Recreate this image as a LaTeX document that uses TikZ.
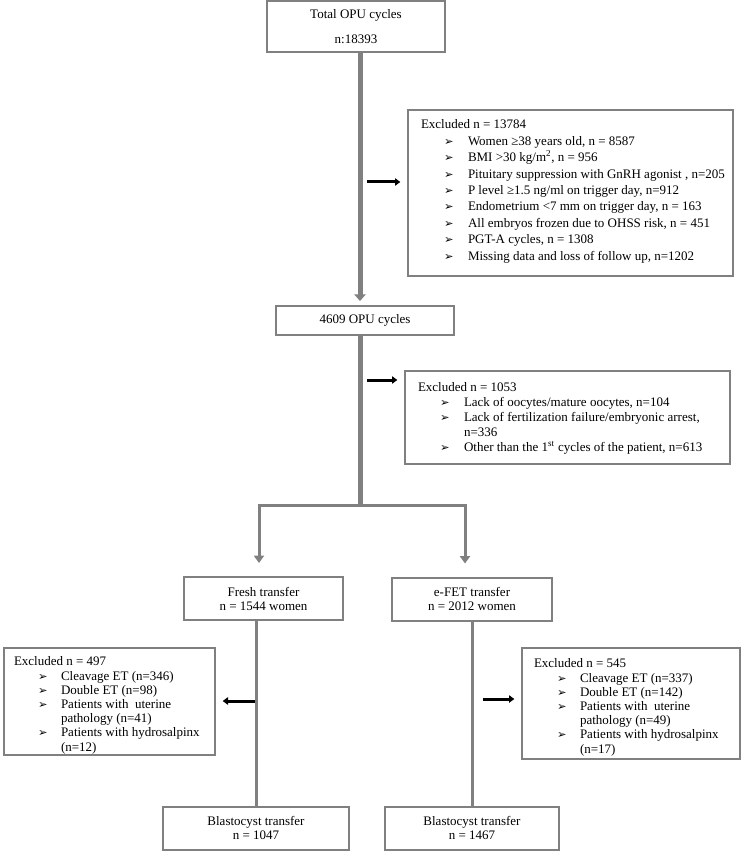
\documentclass[tikz,border=0pt]{standalone}
\usepackage{fontspec}
\setmainfont{Liberation Serif}
\newfontfamily\dingfont{DejaVu Sans}
\usepackage{tikz}
\usetikzlibrary{arrows.meta, positioning, calc}
\definecolor{linegray}{RGB}{128,128,128}
\newcommand{\bul}{{\dingfont\fontsize{8.5}{8.5}\selectfont\char"27A2}}
\tikzstyle{mainbox} = [rectangle, draw=linegray, line width=1.5pt, fill=white, align=center, inner sep=0pt, font=\fontsize{9.75}{10.5}\selectfont]
\tikzstyle{exclbox} = [rectangle, draw=linegray, line width=1.5pt, fill=white, anchor=north west, inner sep=0pt]
\tikzstyle{listtext} = [anchor=north west, inner sep=0pt, align=left, draw=none, fill=none, minimum width=0pt, minimum height=0pt]
\tikzstyle{flow} = [draw=linegray, line width=3.75pt]
\tikzstyle{branch} = [draw=linegray, line width=2.25pt]
\tikzstyle{grayarrow} = [-{Triangle[width=7.5pt,length=5.5pt]}]
\tikzstyle{exclarrow} = [line width=2.25pt, -{Triangle[width=5.5pt,length=4pt]}, shorten >=5pt]

\begin{document}
\begin{tikzpicture}[x=0.75pt, y=-0.75pt]
    \useasboundingbox (0,0) rectangle (740,852);

    % main flow
    \node (total) [mainbox, minimum width=133.5pt, minimum height=38.25pt] at (356,26.5) {Total OPU cycles\\[8.25pt]n:18393};
    \node (opu) [mainbox, minimum width=133.5pt, minimum height=21.75pt] at (365,320.5) {4609 OPU cycles};
    \node (fresh) [mainbox, minimum width=119.25pt, minimum height=32.25pt] at (263.5,598.5) {Fresh transfer\\n = 1544 women};
    \node (efet) [mainbox, minimum width=120pt, minimum height=32.25pt] at (472,599) {e-FET transfer\\n = 2012 women};
    \node (blastl) [mainbox, minimum width=139.5pt, minimum height=32.25pt] at (256,828) {Blastocyst transfer\\n = 1047};
    \node (blastr) [mainbox, minimum width=130.5pt, minimum height=32.25pt] at (472,828) {Blastocyst transfer\\n = 1467};

    % excluded boxes
    \node (excl1) [exclbox, minimum width=243.75pt, minimum height=124.5pt, path picture={
        \node (excl1txt) [listtext, font=\fontsize{9.75}{12.3}\selectfont] at ([shift={(12,6.5)}]path picture bounding box.north west) {%
        \begin{tabular}{@{}p{17.25pt}@{}p{18pt}@{}l@{}}
        \multicolumn{3}{@{}l@{}}{Excluded n = 13784}\\
        & \bul & Women ≥38 years old, n = 8587\\
        & \bul & BMI >30 kg/m\textsuperscript{2}, n = 956\\
        & \bul & Pituitary suppression with GnRH agonist , n=205\\
        & \bul & P level ≥1.5 ng/ml on trigger day, n=912\\
        & \bul & Endometrium <7 mm on trigger day, n = 163\\
        & \bul & All embryos frozen due to OHSS risk, n = 451\\
        & \bul & PGT-A cycles, n = 1308\\
        & \bul & Missing data and loss of follow up, n=1202
        \end{tabular}};
    }] at (407,109) {};

    \node (excl2) [exclbox, minimum width=243.75pt, minimum height=69.75pt, path picture={
        \node (excl2txt) [listtext, font=\fontsize{9.75}{11.25}\selectfont] at ([shift={(12,8.5)}]path picture bounding box.north west) {%
        \begin{tabular}{@{}p{16.5pt}@{}p{18pt}@{}l@{}}
        \multicolumn{3}{@{}l@{}}{Excluded n = 1053}\\
        & \bul & Lack of oocytes/mature oocytes, n=104\\
        & \bul & Lack of fertilization failure/embryonic arrest,\\
        & & n=336\\
        & \bul & Other than the 1\textsuperscript{st} cycles of the patient, n=613
        \end{tabular}};
    }] at (404,370) {};

    \node (exclfresh) [exclbox, minimum width=158.25pt, minimum height=80.25pt, path picture={
        \node (exclfreshtxt) [listtext, font=\fontsize{9.75}{10.65}\selectfont] at ([shift={(9,7)}]path picture bounding box.north west) {%
        \begin{tabular}{@{}p{18pt}@{}p{17.25pt}@{}l@{}}
        \multicolumn{3}{@{}l@{}}{Excluded n = 497}\\
        & \bul & Cleavage ET (n=346)\\
        & \bul & Double ET (n=98)\\
        & \bul & Patients with\ \ uterine\\
        & & pathology (n=41)\\
        & \bul & Patients with hydrosalpinx\\
        & & (n=12)
        \end{tabular}};
    }] at (3,647) {};

    \node (exclfet) [exclbox, minimum width=163.5pt, minimum height=83.25pt, path picture={
        \node (exclfettxt) [listtext, font=\fontsize{9.75}{10.65}\selectfont] at ([shift={(11,9)}]path picture bounding box.north west) {%
        \begin{tabular}{@{}p{17.25pt}@{}p{17.25pt}@{}l@{}}
        \multicolumn{3}{@{}l@{}}{Excluded n = 545}\\
        & \bul & Cleavage ET (n=337)\\
        & \bul & Double ET (n=142)\\
        & \bul & Patients with\ \ uterine\\
        & & pathology (n=49)\\
        & \bul & Patients with hydrosalpinx\\
        & & (n=17)
        \end{tabular}};
    }] at (521,647) {};

    % connectors
    \coordinate (stem) at (360,400);
    \coordinate (split) at (360,505);
    \coordinate (splitl) at (259,505);
    \coordinate (splitr) at (465,505);
    \draw [flow, -{Triangle[width=8.5pt,length=5pt]}, shorten >=3pt] (total.south -| stem) -- (opu.north -| stem);
    \draw [flow] (opu.south -| stem) -- (split);
    \draw [branch, grayarrow, shorten >=9.75pt] (split) -| (fresh.north -| splitl);
    \draw [branch, grayarrow, shorten >=9.75pt] (split) -| (efet.north -| splitr);
    \draw [branch] (fresh.south -| blastl.north) -- (blastl.north);
    \draw [branch] (efet.south -| blastr.north) -- (blastr.north);

    % arrows to excluded boxes
    \coordinate (out1) at (367,182);
    \coordinate (out2) at (367,380);
    \coordinate (outfresh) at (255,701);
    \coordinate (outfet) at (483,699);
    \draw [exclarrow] (out1) -- (out1 -| excl1.west);
    \draw [exclarrow] (out2) -- (out2 -| excl2.west);
    \draw [exclarrow] (outfresh) -- (outfresh -| exclfresh.east);
    \draw [exclarrow] (outfet) -- (outfet -| exclfet.west);
\end{tikzpicture}
\end{document}
